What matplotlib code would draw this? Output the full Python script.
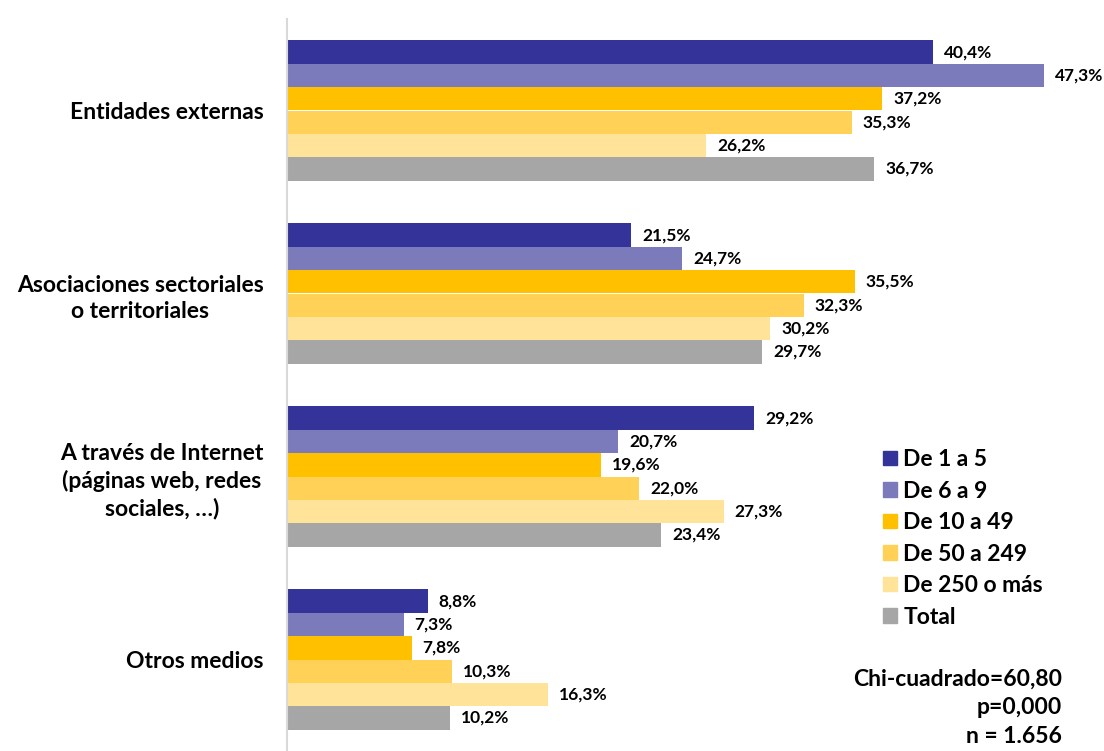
import matplotlib.pyplot as plt
import numpy as np
from matplotlib.patches import Patch

plt.rcParams['font.family'] = ['Lato', 'DejaVu Sans']
plt.rcParams['font.weight'] = 'bold'

categories = ["Entidades externas", "Asociaciones sectoriales\no territoriales",
              "A través de Internet\n(páginas web, redes\nsociales, …)", "Otros medios"]
series = ["De 1 a 5", "De 6 a 9", "De 10 a 49", "De 50 a 249", "De 250 o más", "Total"]
values = {
    "De 1 a 5":     [40.4, 21.5, 29.2, 8.8],
    "De 6 a 9":     [47.3, 24.7, 20.7, 7.3],
    "De 10 a 49":   [37.2, 35.5, 19.6, 7.8],
    "De 50 a 249":  [35.3, 32.3, 22.0, 10.3],
    "De 250 o más": [26.2, 30.2, 27.3, 16.3],
    "Total":        [36.7, 29.7, 23.4, 10.2],
}
colors = ["#333399", "#7B7BBB", "#FFC000", "#FFD257", "#FFE399", "#A6A6A6"]
stats_text = "Chi-cuadrado=60,80\np=0,000\nn = 1.656"

fig = plt.figure(figsize=(11.04, 7.51), dpi=100)
ax = fig.add_axes([287/1104, 0, 1 - 287/1104 - 0.003, 1 - 19/751])

n = len(series)
bh = 0.7655 / n
y = np.arange(len(categories))
for i, s in enumerate(series):
    pos = y - 0.7655/2 + bh*(i + 0.5)
    bars = ax.barh(pos, values[s], height=bh, color=colors[i], label=s)
    for b, v in zip(bars, values[s]):
        ax.text(b.get_width() + 0.68, b.get_y() + b.get_height()/2,
                f"{v:.1f}%".replace('.', ','), va='center', ha='left',
                fontsize=12.5, fontweight='bold', color='black')

ax.set_xlim(0, (1104*(1 - 287/1104 - 0.003))/16.0)
ax.set_ylim(len(categories) - 0.5, -0.5)
ax.set_yticks(y)
ax.set_yticklabels(categories, fontsize=16.5, fontweight='bold',
                   multialignment='center', linespacing=1.3)
ax.tick_params(axis='y', length=0, pad=17)
ax.set_xticks([])
for sp in ['top', 'right', 'bottom']:
    ax.spines[sp].set_visible(False)
ax.spines['left'].set_color('#D9D9D9')
ax.spines['left'].set_linewidth(1.5)

handles = [Patch(color=c, label=s) for s, c in zip(series, colors)]
fig.legend(handles=handles, loc='upper left', bbox_to_anchor=(883/1104, 1 - 449/751),
           frameon=False, handlelength=0.6, handleheight=0.6,
           handletextpad=0.28, labelspacing=0.46, borderpad=0, borderaxespad=0,
           prop={'weight': 'bold', 'size': 16.5})

fig.text(1062/1104, 1 - 669/751, stats_text, ha='right', va='top', fontsize=16.5,
         fontweight='bold', linespacing=1.44)

fig.savefig("out.png", dpi=100)
